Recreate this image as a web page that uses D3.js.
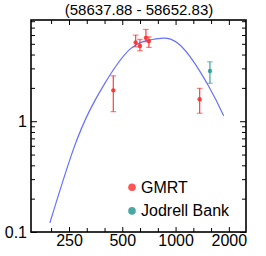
<!DOCTYPE html>
<html>
<head>
<meta charset="utf-8">
<script src="https://cdn.jsdelivr.net/npm/d3@7"></script>
<style>
  body { margin: 0; background: #fff; }
  text { font-family: "Liberation Sans", Arial, sans-serif; }
  .axis path { display: none; }
  .axis line { stroke: #000; stroke-width: 1; }
</style>
</head>
<body>
<svg width="266" height="256"></svg>
<script>
// values
const gmrtFreq = [445, 595, 629, 680, 707, 1368];
const gmrtFlux = [1.90, 5.15, 4.77, 5.66, 5.29, 1.58];
const gmrtLo   = [1.22, 4.70, 4.33, 5.21, 4.64, 1.18];
const gmrtHi   = [2.57, 5.99, 5.48, 6.74, 5.78, 1.98];

const jbFreq = [1564];
const jbFlux = [2.84];
const jbLo   = [2.20];
const jbHi   = [3.44];

// fitted curve
const fitFreq = [195, 264, 328, 399, 553, 765, 1059, 1544, 1869];
const fitFlux = [0.121, 0.551, 1.26, 2.21, 4.48, 5.52, 4.88, 2.05, 1.12];

const xTickLabels = [250, 500, 1000, 2000];
const xMinor = [198, 315, 397, 630, 794, 1260, 1587];
const yTickLabels = [0.1, 1];
const yMinor = [0.2, 0.3, 0.4, 0.5, 0.6, 0.7, 0.8, 0.9, 2, 3, 4, 5, 6, 7, 8];

const title = "(58637.88 - 58652.83)";

const svg = d3.select("svg");
const mLeft = 31, mRight = 246, mTop = 20, mBottom = 232;

const x = d3.scaleLog().domain([152.5, 2500]).range([mLeft, mRight]);
const y = d3.scaleLog().domain([0.1, 8.2]).range([mBottom, mTop]);

// axes, ticks pointing inwards
const ax = (gen, tx, ty) => svg.append("g").attr("class", "axis")
    .attr("transform", `translate(${tx},${ty})`).call(gen);

ax(d3.axisBottom(x).tickValues(xTickLabels).tickFormat(d3.format("d")).tickSize(-5).tickPadding(3), 0, mBottom)
  .selectAll("text").attr("font-size", 16).attr("fill", "#000");
ax(d3.axisBottom(x).tickValues(xMinor).tickFormat("").tickSize(-4), 0, mBottom);
ax(d3.axisTop(x).tickValues(xTickLabels).tickFormat("").tickSize(-5), 0, mTop);
ax(d3.axisTop(x).tickValues(xMinor).tickFormat("").tickSize(-4), 0, mTop);

ax(d3.axisLeft(y).tickValues(yTickLabels).tickFormat(d => d).tickSize(-6).tickPadding(4), mLeft, 0)
  .selectAll("text").attr("font-size", 16).attr("fill", "#000");
ax(d3.axisLeft(y).tickValues(yMinor).tickFormat("").tickSize(-4), mLeft, 0);
ax(d3.axisRight(y).tickValues(yTickLabels).tickFormat("").tickSize(-6), mRight, 0);
ax(d3.axisRight(y).tickValues(yMinor).tickFormat("").tickSize(-4), mRight, 0);

svg.append("rect")
  .attr("x", mLeft).attr("y", mTop)
  .attr("width", mRight - mLeft).attr("height", mBottom - mTop)
  .attr("fill", "none").attr("stroke", "#000").attr("stroke-width", 1.6);

svg.append("text")
  .attr("x", 139).attr("y", 14.5)
  .attr("text-anchor", "middle").attr("font-size", 15)
  .text(title);

// fit curve
const line = d3.line().x(d => x(d[0])).y(d => y(d[1])).curve(d3.curveNatural);
svg.append("path")
  .attr("d", line(d3.zip(fitFreq, fitFlux)))
  .attr("fill", "none").attr("stroke", "#6670ff").attr("stroke-width", 1.2);

function drawSeries(freq, flux, lo, hi, color) {
  const g = svg.append("g");
  const rows = freq.map((f, i) => ({f, s: flux[i], lo: lo[i], hi: hi[i]}));
  g.selectAll(".bar").data(rows).enter().append("line")
    .attr("x1", d => x(d.f)).attr("x2", d => x(d.f))
    .attr("y1", d => y(d.lo)).attr("y2", d => y(d.hi))
    .attr("stroke", color).attr("stroke-width", 1.3).attr("opacity", 0.85);
  ["lo", "hi"].forEach(k => {
    g.selectAll(".cap" + k).data(rows).enter().append("line")
      .attr("x1", d => x(d.f) - 2.8).attr("x2", d => x(d.f) + 2.8)
      .attr("y1", d => y(d[k])).attr("y2", d => y(d[k]))
      .attr("stroke", color).attr("stroke-width", 1.2).attr("opacity", 0.6);
  });
  g.selectAll("circle").data(rows).enter().append("circle")
    .attr("cx", d => x(d.f)).attr("cy", d => y(d.s)).attr("r", 2.2)
    .attr("fill", color).attr("opacity", 0.9);
}

drawSeries(gmrtFreq, gmrtFlux, gmrtLo, gmrtHi, "#ff2e2e");
drawSeries(jbFreq, jbFlux, jbLo, jbHi, "#2f9c96");

// legend
const legend = [["GMRT", "#ff5555"], ["Jodrell Bank", "#48a8a4"]];
legend.forEach(([name, c], i) => {
  svg.append("circle").attr("cx", 132).attr("cy", 187.3 + i * 23.6).attr("r", 3.8).attr("fill", c);
  svg.append("text").attr("x", 141).attr("y", 192.6 + i * 23.6)
    .attr("font-size", 16).text(name);
});
</script>
</body>
</html>
